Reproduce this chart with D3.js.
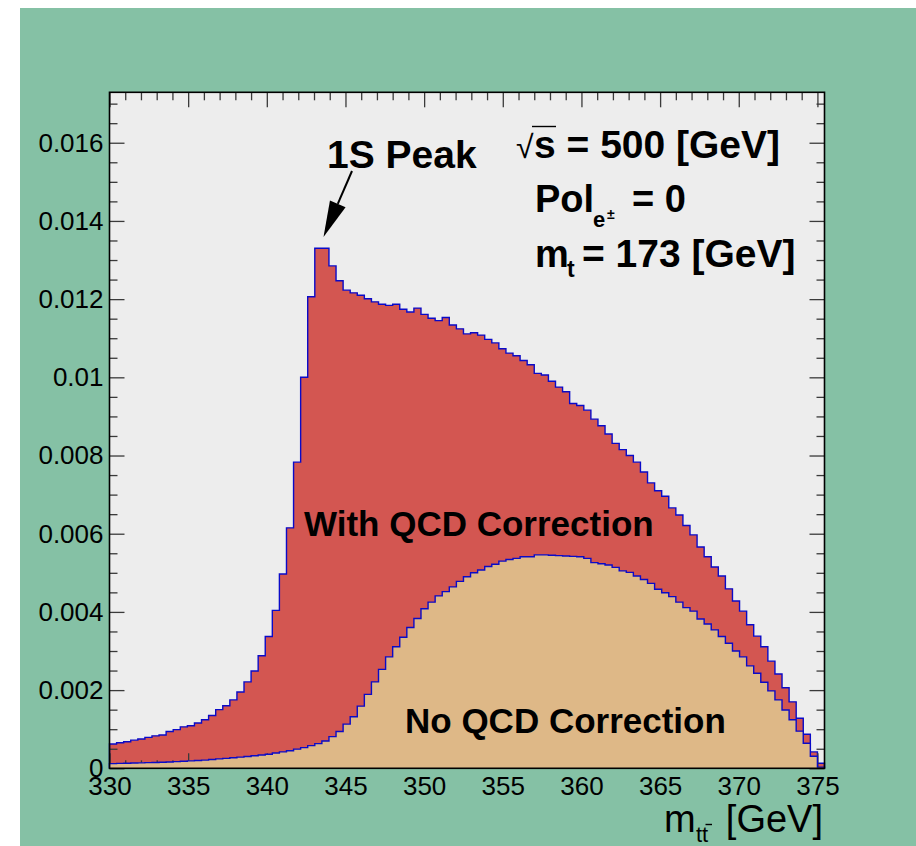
<!DOCTYPE html>
<html>
<head>
<meta charset="utf-8">
<script src="https://cdn.jsdelivr.net/npm/d3@7"></script>
<style>
  html, body { margin: 0; padding: 0; background: #ffffff; }
  svg { display: block; }
</style>
</head>
<body>
<svg id="chart" width="916" height="846"></svg>
<script>
// Histogram binning: first bin low edge and bin width (GeV)
const binStart = 330;
const binWidth = 0.45;

// m_tt distribution with QCD correction (per bin)
const withQCD = [
  0.00062, 0.000655, 0.00068, 0.00072, 0.00075, 0.00079, 0.00083, 0.00085, 0.00094, 0.00099,
  0.00106, 0.00109, 0.00116, 0.00124, 0.00135, 0.0015, 0.0016, 0.00175, 0.00195, 0.00221,
  0.00249, 0.00288, 0.00337, 0.00404, 0.00497, 0.00615, 0.00783, 0.0100, 0.01206, 0.0133,
  0.0133, 0.01285, 0.01247, 0.01223, 0.01216, 0.0121, 0.01201, 0.01193, 0.01187, 0.01184,
  0.01187, 0.01174, 0.01167, 0.01177, 0.01161, 0.01151, 0.01145, 0.01153, 0.01134, 0.01124,
  0.01111, 0.01114, 0.01108, 0.01097, 0.01088, 0.01073, 0.01062, 0.01055, 0.01043, 0.01032,
  0.0101, 0.01006, 0.0099, 0.00975, 0.00963, 0.00933, 0.00928, 0.00916, 0.00893, 0.00876,
  0.00855, 0.00831, 0.00815, 0.008, 0.00783, 0.00758, 0.0073, 0.0071, 0.00696, 0.00666,
  0.00648, 0.00621, 0.00597, 0.00566, 0.00541, 0.00515, 0.00492, 0.00459, 0.00428, 0.00402,
  0.00367, 0.00338, 0.00311, 0.00274, 0.00241, 0.00206, 0.0017, 0.00128, 0.00087, 0.00042,
  0.00013
];

// m_tt distribution without QCD correction (per bin)
const noQCD = [
  0.00012, 0.000125, 0.00013, 0.000135, 0.00014, 0.000145, 0.00015, 0.000155, 0.00016, 0.00017,
  0.00018, 0.00019, 0.0002, 0.00021, 0.000225, 0.00024, 0.000255, 0.00027, 0.000285, 0.0003,
  0.00032, 0.00034, 0.00036, 0.00039, 0.00042, 0.00045, 0.00049, 0.00053, 0.00058, 0.00063,
  0.0007, 0.00081, 0.00094, 0.00113, 0.00132, 0.00159, 0.00189, 0.00221, 0.00253, 0.00285,
  0.00311, 0.00335, 0.0036, 0.00383, 0.00408, 0.00425, 0.00441, 0.00452, 0.00464, 0.00478,
  0.0049, 0.005, 0.00507, 0.00516, 0.00522, 0.0053, 0.00534, 0.00537, 0.00541, 0.00541,
  0.00546, 0.00546, 0.00545, 0.00544, 0.00543, 0.00542, 0.00541, 0.00537, 0.00526, 0.00523,
  0.0052, 0.00514, 0.00505, 0.00501, 0.00492, 0.00483, 0.00473, 0.00458, 0.00449, 0.00439,
  0.00425, 0.00411, 0.00402, 0.00382, 0.00369, 0.00354, 0.00337, 0.0032, 0.003, 0.00285,
  0.00262, 0.00243, 0.0022, 0.00198, 0.00175, 0.00149, 0.00124, 0.00095, 0.00064, 0.00031,
  0.00003
];

// Axis ticks and labels
const xMajorTicks = [330, 335, 340, 345, 350, 355, 360, 365, 370, 375];
const xTickLabels = ["330", "335", "340", "345", "350", "355", "360", "365", "370", "375"];
const yMajorTicks = [0, 0.002, 0.004, 0.006, 0.008, 0.010, 0.012, 0.014, 0.016];
const yTickLabels = ["0", "0.002", "0.004", "0.006", "0.008", "0.01", "0.012", "0.014", "0.016"];
const yMax = 0.01729;

// ---------------------------------------------------------------------------
const svg = d3.select("#chart");
const W = 916, H = 846;
const L = 109.5, R = 824.5, T = 92.3, B = 768.3;
const FONT = "'Liberation Sans', Arial, Helvetica, sans-serif";

const xMax = binStart + withQCD.length * binWidth;
const x = d3.scaleLinear().domain([binStart, xMax]).range([L, R]);
const y = d3.scaleLinear().domain([0, yMax]).range([B, T]);

// canvas + pad background
svg.append("rect").attr("x", 20).attr("y", 8).attr("width", W - 20).attr("height", H - 8)
  .attr("fill", "#85c1a5");
svg.append("rect").attr("x", L).attr("y", T).attr("width", R - L).attr("height", B - T)
  .attr("fill", "#ededed");

// step-histogram helpers
function stepPoints(vals) {
  const pts = [];
  vals.forEach((v, i) => {
    const lo = binStart + i * binWidth, hi = lo + binWidth;
    pts.push([lo, v], [hi, v]);
  });
  return pts;
}
const area = d3.area().x(d => x(d[0])).y0(y(0)).y1(d => y(d[1]));
const line = d3.line().x(d => x(d[0])).y(d => y(d[1]));

function drawHist(vals, fill) {
  const pts = stepPoints(vals);
  const g = svg.append("g");
  g.append("path").attr("d", area(pts)).attr("fill", fill);
  const outline = [[binStart, 0], ...pts, [xMax, 0]];
  g.append("path").attr("d", line(outline)).attr("fill", "none")
    .attr("stroke", "#0a0ac8").attr("stroke-width", 1.4).attr("stroke-linejoin", "miter");
}

// histogram with QCD correction
drawHist(withQCD, "#d35651");

// axes (ticks inside the frame)
const xMinorTicks = d3.range(331, 376).filter(v => v % 5 !== 0);
const yMinorTicks = d3.range(1, 35).map(k => k * 0.0005).filter((v, i) => (i + 1) % 4 !== 0 && v < yMax);

function styleAxis(g) {
  g.select(".domain").remove();
  g.selectAll(".tick line").attr("stroke", "#3a3a3a").attr("stroke-width", 1.3);
  g.selectAll(".tick text").attr("fill", "#000").attr("font-family", FONT).attr("font-size", 26);
}

const axes = svg.append("g");
axes.append("g").attr("transform", `translate(0,${B})`)
  .call(d3.axisBottom(x).tickValues(xMinorTicks).tickSize(-8).tickFormat(""))
  .call(styleAxis);
axes.append("g").attr("transform", `translate(0,${B})`)
  .call(d3.axisBottom(x).tickValues(xMajorTicks).tickSize(-15).tickPadding(8)
    .tickFormat((d, i) => xTickLabels[i]))
  .call(styleAxis);
axes.append("g").attr("transform", `translate(0,${T})`)
  .call(d3.axisTop(x).tickValues(xMinorTicks).tickSize(-8).tickFormat(""))
  .call(styleAxis);
axes.append("g").attr("transform", `translate(0,${T})`)
  .call(d3.axisTop(x).tickValues(xMajorTicks).tickSize(-15).tickFormat(""))
  .call(styleAxis);
axes.append("g").attr("transform", `translate(${L},0)`)
  .call(d3.axisLeft(y).tickValues(yMinorTicks).tickSize(-8).tickFormat(""))
  .call(styleAxis);
axes.append("g").attr("transform", `translate(${L},0)`)
  .call(d3.axisLeft(y).tickValues(yMajorTicks).tickSize(-15).tickPadding(6)
    .tickFormat((d, i) => yTickLabels[i]))
  .call(styleAxis);
axes.append("g").attr("transform", `translate(${R},0)`)
  .call(d3.axisRight(y).tickValues(yMinorTicks).tickSize(-8).tickFormat(""))
  .call(styleAxis);
axes.append("g").attr("transform", `translate(${R},0)`)
  .call(d3.axisRight(y).tickValues(yMajorTicks).tickSize(-15).tickFormat(""))
  .call(styleAxis);

// histogram without QCD correction, drawn over the axis ticks
drawHist(noQCD, "#deb887");

// frame
svg.append("rect").attr("x", L).attr("y", T).attr("width", R - L).attr("height", B - T)
  .attr("fill", "none").attr("stroke", "#000").attr("stroke-width", 1.6);

// text helper
function txt(s, px, py, size, weight, anchor) {
  return svg.append("text").attr("x", px).attr("y", py).text(s)
    .attr("font-family", FONT).attr("font-size", size)
    .attr("font-weight", weight || "normal").attr("text-anchor", anchor || "start")
    .attr("fill", "#000");
}

// x-axis title: m_tt̄ [GeV]
txt("m", 664, 832, 38);
txt("tt", 696, 842, 22);
svg.append("line").attr("x1", 705.5).attr("x2", 712).attr("y1", 824.5).attr("y2", 824.5)
  .attr("stroke", "#000").attr("stroke-width", 1.4);
txt("[GeV]", 823, 832, 38, "normal", "end");

// annotations
txt("1S Peak", 327, 168, 39, "bold");
const tip = [323.5, 237], tail = [352, 171];
const dx = tip[0] - tail[0], dy = tip[1] - tail[1], len = Math.hypot(dx, dy);
const ux = dx / len, uy = dy / len, hl = 36, hw = 8.5;
const bx = tip[0] - ux * hl, by = tip[1] - uy * hl;
svg.append("line").attr("x1", tail[0]).attr("y1", tail[1]).attr("x2", bx).attr("y2", by)
  .attr("stroke", "#000").attr("stroke-width", 2);
svg.append("path")
  .attr("d", `M${tip[0]},${tip[1]}L${bx - uy * hw},${by + ux * hw}L${bx + uy * hw},${by - ux * hw}Z`)
  .attr("fill", "#000");

// sqrt(s) = 500 [GeV]
txt("\u221A", 516, 158, 32);
svg.append("line").attr("x1", 532).attr("x2", 556).attr("y1", 126.5).attr("y2", 126.5)
  .attr("stroke", "#000").attr("stroke-width", 1.4);
txt("s = 500 [GeV]", 534, 158, 39, "bold");

// Pol_{e±} = 0
txt("Pol", 535, 212, 38, "bold");
txt("e", 593, 226.5, 22, "bold");
txt("\u00B1", 607, 219, 14, "bold");
txt("= 0", 632, 212, 38, "bold");

// m_t = 173 [GeV]
txt("m", 535, 267, 38, "bold");
txt("t", 567, 276.5, 23, "bold");
txt("= 173 [GeV]", 582, 267, 39, "bold");

txt("With QCD Correction", 304, 536, 35, "bold");
txt("No QCD Correction", 405, 733, 35, "bold");
</script>
</body>
</html>
